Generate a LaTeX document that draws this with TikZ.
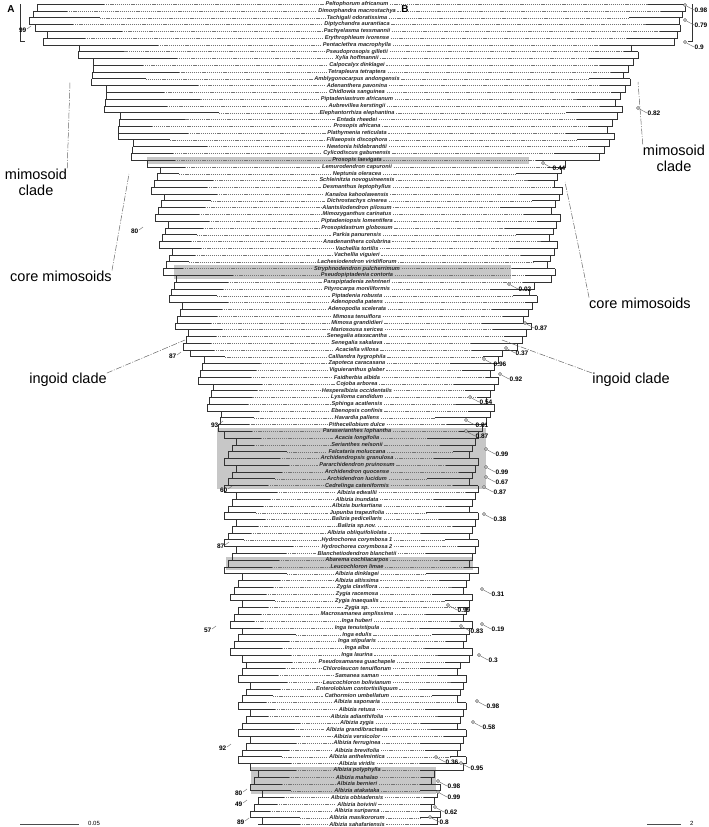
\documentclass[tikz,border=0pt]{standalone}
\usepackage{fontspec}
\setmainfont{Liberation Sans}
\pgfmathdeclarefunction{ry}{1}{\pgfmathparse{4.2+(#1-1)*6.78}}
\pgfmathdeclarefunction{lxa}{1}{\pgfmathparse{((#1<=3)?25:((#1<=6)?35:((#1<=23)?(75+(#1-7)*3.3):((#1<=41)?(147+(#1-24)):((#1<=51)?(166+(#1-42)*1.5):((#1<=63)?(190+(#1-52)*2.2):((#1<=84)?224:((#1<=97)?230:((#1<=113)?238:250)))))))))+mod(#1*7,4)*4}}
\pgfmathdeclarefunction{rxa}{1}{\pgfmathparse{((#1<=3)?688:((#1<=6)?680:((#1<=23)?(640-(#1-7)*2):((#1<=41)?(565-(#1-24)*0.6):((#1<=51)?(540-(#1-42)*1.5):((#1<=63)?(502-(#1-52)):((#1<=84)?478:((#1<=97)?472:((#1<=113)?466:440)))))))))-mod(#1*5,4)*3}}
\tikzset{
  lbl/.style={font=\fontsize{5.6}{6}\selectfont\bfseries\itshape,inner sep=0pt,text=black!85},
  br/.style={draw=black!80,line width=0.7pt},
  dsh/.style={draw=black!55,dash pattern=on 1.2pt off 0.9pt,line width=0.35pt},
  clade/.style={font=\fontsize{14.5}{16}\selectfont,align=center,inner sep=0pt},
  val/.style={font=\fontsize{6.5}{7}\selectfont\bfseries,inner sep=0.5pt,anchor=west},
  bs/.style={font=\fontsize{6.5}{7}\selectfont\bfseries,inner sep=0.5pt,anchor=east},
  lead/.style={draw=black!60,line width=0.5pt,dash pattern=on 6pt off 1.5pt on 1pt off 1.5pt},
  pin/.style={draw=black!60,line width=0.4pt},
  dot/.style={circle,fill=black!25,draw=black!70,line width=0.3pt,inner sep=0pt,minimum size=3.5pt}
}
\begin{document}
\begin{tikzpicture}[x=1pt,y=-1pt]
\useasboundingbox (0,0) rectangle (709,827);
% shaded boxes (row ranges)
\foreach \a/\b/\xl/\xr in {24/24/147/529,40/41/174/511,64/72/217/486,83/84/226/473,114/117/251/436}{
  \pgfmathsetmacro\ya{ry(\a)-3.4}
  \pgfmathsetmacro\yb{ry(\b)+3.4}
  \fill[black!22] (\xl,\ya) rectangle (\xr,\yb);
}
% taxa and tree
\foreach \nm [count=\i] in {Peltophorum africanum,Dimorphandra macrostachya,Tachigali odoratissima,Diptychandra aurantiaca,Pachyelasma tessmannii,Erythrophleum ivorense,Pentaclethra macrophylla,Pseudoprosopis gilletii,Xylia hoffmannii,Calpocalyx dinklagei,Tetrapleura tetraptera,Amblygonocarpus andongensis,Adenanthera pavonina,Chidlowia sanguinea,Piptadeniastrum africanum,Aubrevillea kerstingii,Elephantorrhiza elephantina,Entada rheedei,Prosopis africana,Plathymenia reticulata,Fillaeopsis discophora,Newtonia hildebrandtii,Cylicodiscus gabunensis,Prosopis laevigata,Lemurodendron capuronii,Neptunia oleracea,Schleinitzia novoguineensis,Desmanthus leptophyllus,Kanaloa kahoolawensis,Dichrostachys cinerea,Alantsilodendron pilosum,Mimozyganthus carinatus,Piptadeniopsis lomentifera,Prosopidastrum globosum,Parkia panurensis,Anadenanthera colubrina,Vachellia tortilis,Vachellia viguieri,Lachesiodendron viridiflorum,Stryphnodendron pulcherrimum,Pseudopiptadenia contorta,Parapiptadenia zehntneri,Pityrocarpa moniliformis,Piptadenia robusta,Adenopodia patens,Adenopodia scelerata,Mimosa tenuiflora,Mimosa grandidieri,Mariosousa sericea,Senegalia ataxacantha,Senegalia sakalava,Acaciella villosa,Calliandra hygrophila,Zapoteca caracasana,Viguieranthus glaber,Faidherbia albida,Cojoba arborea,Hesperalbizia occidentalis,Lysiloma candidum,Sphinga acatlensis,Ebenopsis confinis,Havardia pallens,Pithecellobium dulce,Paraserianthes lophantha,Acacia longifolia,Serianthes nelsonii,Falcataria moluccana,Archidendropsis granulosa,Pararchidendron pruinosum,Archidendron quocense,Archidendron lucidum,Cedrelinga cateniformis,Albizia edwallii,Albizia inundata,Albizia burkartiana,Jupunba trapezifolia,Balizia pedicellaris,Balizia sp.nov.,Albizia obliquifoliolata,Hydrochorea corymbosa 1,Hydrochorea corymbosa 2,Blanchetiodendron blanchetii,Abarema cochliacarpos,Leucochloron limae,Albizia dinklagei,Albizia altissima,Zygia claviflora,Zygia racemosa,Zygia inaequalis,Zygia sp.,Macrosamanea amplissima,Inga huberi,Inga tenuistipula,Inga edulis,Inga stipularis,Inga alba,Inga laurina,Pseudosamanea guachapele,Chloroleucon tenuiflorum,Samanea saman,Leucochloron bolivianum,Enterolobium contortisiliquum,Cathormion umbellatum,Albizia saponaria,Albizia retusa,Albizia adianthifolia,Albizia zygia,Albizia grandibracteata,Albizia versicolor,Albizia ferruginea,Albizia brevifolia,Albizia anthelmintica,Albizia viridis,Albizia polyphylla,Albizia mahalao,Albizia bernieri,Albizia atakataka,Albizia obbiadensis,Albizia boivinii,Albizia suriparsa,Albizia masikororum,Albizia sahafariensis}{
  \pgfmathsetmacro\yy{ry(\i)}
  \pgfmathsetmacro\la{lxa(\i)}
  \pgfmathsetmacro\ra{rxa(\i)}
  \pgfmathsetmacro\lt{min((\i<=23)?(\la+30+mod(\i*37,70)):(\la+20+mod(\i*37,40)),300)}
  \pgfmathsetmacro\rt{max(\ra-8-mod(\i*29,45),420)}
  \node[lbl] (t\i) at (357,\yy) {\nm};
  \draw[br] (\la,\yy) -- (\lt,\yy);
  \draw[dsh] (\lt,\yy) -- ([xshift=-1.5pt]t\i.west);
  \draw[br] (\rt,\yy) -- (\ra,\yy);
  \draw[dsh] ([xshift=1.5pt]t\i.east) -- (\rt,\yy);
  \ifnum\i<122
    \pgfmathsetmacro\yn{ry(\i+1)}
    \pgfmathsetmacro\lan{lxa(\i+1)}
    \pgfmathsetmacro\ran{rxa(\i+1)}
    \draw[br] (\la,\yy) -- (\la,\yn) -- (\lan,\yn);
    \draw[br] (\ra,\yy) -- (\ra,\yn) -- (\ran,\yn);
  \fi
}
% root stubs
\draw[br] (20,4.2) -- (20,41.5) -- (25,41.5);
\draw[br] (692,4.2) -- (692,41.5) -- (688,41.5);
% panel letters
\node[font=\bfseries\fontsize{10}{10}\selectfont] (A) at (11,9) {A};
\node[font=\bfseries\fontsize{10}{10}\selectfont] (B) at (405,9) {B};
% clade labels
\node[clade] (lm) at (36,182) {mimosoid\\clade};
\node[clade] (lc) at (61,276) {core mimosoids};
\node[clade] (li) at (68,380) {ingoid clade};
\node[clade] (rm) at (674,158) {mimosoid\\clade};
\node[clade] (rc) at (640,303) {core mimosoids};
\node[clade] (ri) at (631,380) {ingoid clade};
\coordinate (nlm) at (70,82); \coordinate (nlc) at (129,174); \coordinate (nli) at (185,340);
\coordinate (nrm) at (638,82); \coordinate (nrc) at (565,182); \coordinate (nri) at (502,340);
\draw[lead] (lm.north east) -- (nlm);
\draw[lead] (lc.north east) -- (nlc);
\draw[lead] (li.north east) -- (nli);
\draw[lead] (rm.north west) -- (nrm);
\draw[lead] (rc.north west) -- (nrc);
\draw[lead] (ri.north west) -- (nri);
% left support values
\foreach \x/\y/\v in {27/30/99,139/231/80,177/356/87,219/425/93,228/490/60,225/546/87,212/630/57,227/748/92,243/793/80,243/804/49,245/822/89}{
  \node[bs] at (\x,\y) {\v};
  \draw[pin] (\x,\y-1) -- (\x+4,\y-4);
}
% right posterior values
\foreach \x/\y/\v in {694/10/0.98,694/25/0.79,694/47/0.9,647/113/0.82,552/168/0.44,518/289/0.02,534/328/0.87,515/353/0.37,493/364/0.96,509/379/0.92,479/402/0.54,475/425/0.81,475/436/0.87,495/454/0.99,495/472/0.99,495/482/0.67,493/492/0.87,493/519/0.38,491/594/0.31,457/610/0.99,470/631/0.83,491/629/0.19,488/660/0.3,486/706/0.98,482/727/0.58,470/768/0.95,445/762/0.36,447/786/0.98,447/797/0.99,444/812/0.62,439/822/0.8}{
  \node[val] at (\x,\y) {\v};
  \node[dot] at (\x-9,\y-5) {};
  \draw[pin] (\x-7.5,\y-4) -- (\x,\y);
}
% scale bars
\draw[line width=0.7pt,black!70] (20,824) -- (79,824);
\node[font=\fontsize{6}{6}\selectfont,anchor=west,inner sep=0pt] at (88,823) {0.05};
\draw[line width=0.7pt,black!70] (647,824) -- (681,824);
\node[font=\fontsize{6}{6}\selectfont,anchor=west,inner sep=0pt] at (690,823) {2};
\end{tikzpicture}
\end{document}
